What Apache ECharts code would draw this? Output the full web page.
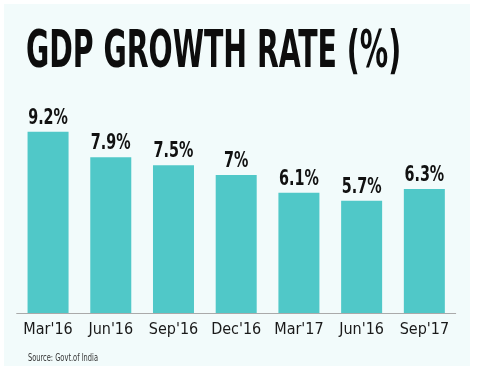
<!DOCTYPE html>
<html>
<head>
<meta charset="utf-8">
<script src="https://cdn.jsdelivr.net/npm/echarts@6/dist/echarts.min.js"></script>
<style>
html,body{margin:0;padding:0;background:#ffffff;}
#chart{width:481px;height:369px;}
</style>
</head>
<body>
<div id="chart"></div>
<script>
const categories = ["Mar'16", "Jun'16", "Sep'16", "Dec'16", "Mar'17", "Jun'16", "Sep'17"];
const growthValues = [9.2, 7.9, 7.5, 7, 6.1, 5.7, 6.3];
const valueLabels = ["9.2%", "7.9%", "7.5%", "7%", "6.1%", "5.7%", "6.3%"];
const titleText = "GDP GROWTH RATE (%)";
const sourceText = "Source: Govt.of India";

const NARROW = "'Liberation Sans Narrow', 'DejaVu Sans Condensed', 'Roboto', sans-serif";

const chart = echarts.init(document.getElementById('chart'), null, {renderer: 'canvas'});
chart.setOption({
  backgroundColor: '#ffffff',
  animation: false,
  graphic: [
    {type: 'rect', z: -10, shape: {x: 4, y: 4, width: 466, height: 362}, style: {fill: '#f2fbfb'}},
    {type: 'text', x: 26, y: 54, scaleX: 0.618, scaleY: 1,
      style: {text: titleText, fontFamily: NARROW, fontWeight: 'bold', fontSize: 51, fill: '#0d0d0d', verticalAlign: 'middle', align: 'left'}},
    {type: 'text', x: 28, y: 358, scaleX: 0.74, scaleY: 1,
      style: {text: sourceText, fontFamily: NARROW, fontSize: 10, fill: '#333333', verticalAlign: 'middle', align: 'left'}}
  ],
  grid: {left: 16.7, right: 25.3, top: 116, bottom: 56, containLabel: false},
  xAxis: {
    type: 'category',
    data: categories,
    axisLine: {lineStyle: {color: '#aaaaaa', width: 1}},
    axisTick: {show: false},
    axisLabel: {interval: 0, color: '#1a1a1a', fontFamily: NARROW, fontSize: 16, margin: 9}
  },
  yAxis: {type: 'value', min: 0, max: 10, show: false, splitLine: {show: false}},
  series: [{
    type: 'bar',
    data: growthValues,
    barWidth: 41,
    itemStyle: {color: '#50c8c8'}
  }, {
    type: 'custom',
    data: growthValues.map((v, i) => [i, v]),
    z: 5,
    renderItem: function (params, api) {
      const pt = api.coord([api.value(0), api.value(1)]);
      return {
        type: 'text',
        x: pt[0], y: pt[1] - 3,
        scaleX: 0.76, scaleY: 1,
        style: {
          text: valueLabels[params.dataIndex],
          fontFamily: NARROW, fontWeight: 'bold', fontSize: 21,
          fill: '#111111', align: 'center', verticalAlign: 'bottom'
        }
      };
    }
  }]
});
</script>
</body>
</html>
